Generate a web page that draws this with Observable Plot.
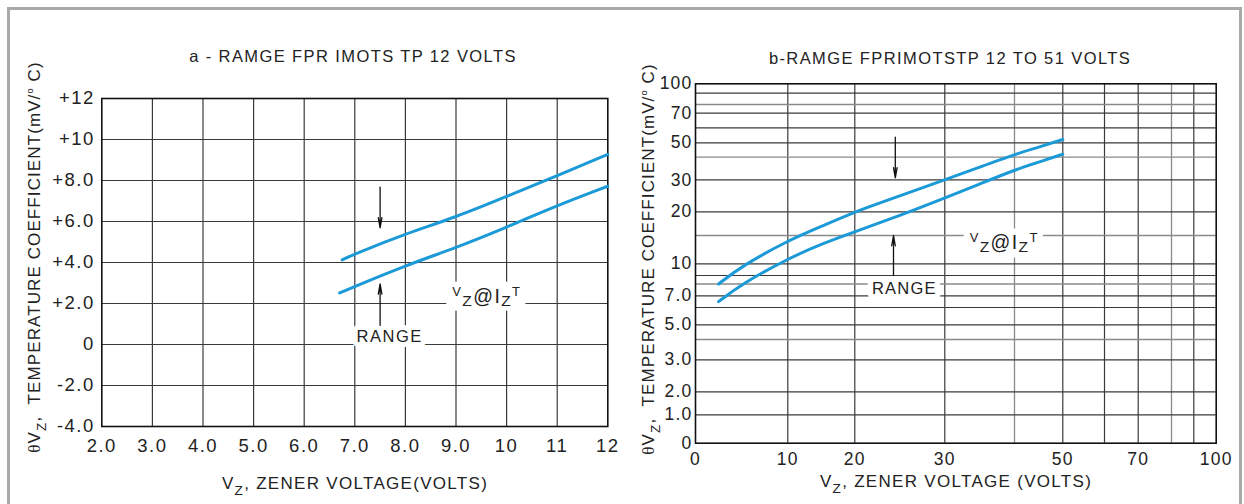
<!DOCTYPE html>
<html><head><meta charset="utf-8">
<script src="https://cdn.jsdelivr.net/npm/d3@7"></script>
<script src="https://cdn.jsdelivr.net/npm/@observablehq/plot@0.6"></script>
<style>
html,body{margin:0;padding:0;background:#fff;}
#page{position:relative;width:1244px;height:504px;overflow:hidden;font-family:"Liberation Sans",Arial,Helvetica,sans-serif;color:#222;}
#frameBox{position:absolute;left:7px;top:7px;width:1229px;height:620px;border:3px solid #a9a9a9;}
.panel{position:absolute;top:0;}
.panel svg{overflow:visible;display:block;}
.txt{position:absolute;white-space:nowrap;transform:translate(-50%,-50%);line-height:1;}
.title{font-size:16.5px;letter-spacing:1.4px;}
.xlab{font-size:17px;letter-spacing:1.3px;}
.ylab{font-size:17px;letter-spacing:1.1px;transform:translate(-50%,-50%) rotate(-90deg);}
sub{font-size:0.8em;vertical-align:-0.45em;line-height:0;}
sup{font-size:0.55em;vertical-align:0.7em;line-height:0;}
.theta{font-family:"Liberation Serif","DejaVu Serif",serif;}
</style></head><body>
<div id="page">
  <div id="frameBox"></div>
  <div id="panelA" class="panel" style="left:0px"></div>
  <div id="panelB" class="panel" style="left:622px"></div>
  <div id="titleA" class="txt title" style="left:353px;top:56px"></div>
  <div id="titleB" class="txt title" style="left:950px;top:58px"></div>
  <div id="xlabA" class="txt xlab" style="left:355px;top:483px"></div>
  <div id="xlabB" class="txt xlab" style="left:956px;top:481px"></div>
  <div id="ylabA" class="txt ylab" style="left:34px;top:257px"></div>
  <div id="ylabB" class="txt ylab" style="left:648px;top:259px"></div>
</div>
<script>
// ================= DATA =================
// Panel a
const aTitle = "a - RAMGE FPR IMOTS TP 12 VOLTS";
const aXTicks = [2, 3, 4, 5, 6, 7, 8, 9, 10, 11, 12];
const aXTickLabels = ["2.0", "3.0", "4.0", "5.0", "6.0", "7.0", "8.0", "9.0", "10", "11", "12"];
const aYTicks = [-4, -2, 0, 2, 4, 6, 8, 10, 12];
const aYTickLabels = ["-4.0", "-2.0", "0", "+2.0", "+4.0", "+6.0", "+8.0", "+10", "+12"];
const aUpperX = [6.75, 7, 8, 9, 10, 11, 12];
const aUpperY = [4.13, 4.42, 5.40, 6.21, 7.22, 8.24, 9.27];
const aLowerX = [6.70, 7, 8, 9, 10, 11, 12];
const aLowerY = [2.52, 2.83, 3.85, 4.72, 5.72, 6.78, 7.72];
const aArrowX = [7.5, 7.5];
const aArrowFrom = [7.68, 0.93];
const aArrowTo = [5.69, 2.96];
const aRangeX = [7.69], aRangeY = [0.36];
const aVzX = 9.62, aVzY = 2.31;

// Panel b
const bTitle = "b-RAMGE FPRIMOTSTP 12 TO 51 VOLTS";
const bXDomain = [0, 10, 20, 30, 40, 50, 60, 70, 80, 90, 100];
const bXTicks = [0, 10, 20, 30, 50, 70, 100];
const bXTickLabels = ["0", "10", "20", "30", "50", "70", "100"];
const bXGrid = [10, 20, 30, 40, 50, 60, 70, 80, 90];
const bYDomain = [0, 1, 2, 3, 4, 5, 6, 7, 8, 9, 10, 15, 20, 30, 40, 50, 60, 70, 80, 90, 100];
const bYTicks = [0, 1, 2, 3, 5, 7, 10, 20, 30, 50, 70, 100];
const bYTickLabels = ["0", "1.0", "2.0", "3.0", "5.0", "7.0", "10", "20", "30", "50", "70", "100"];
const bYGrid = [1, 2, 3, 4, 5, 6, 7, 8, 9, 10, 15, 20, 30, 40, 50, 60, 70, 80, 90];
const bUpperX = [2.5, 5, 10, 15, 20, 25, 30, 35, 40, 45, 50];
const bUpperY = [8.0, 9.8, 14.1, 16.9, 20.0, 25.0, 30.0, 35.6, 41.9, 46.9, 52.2];
const bLowerX = [2.5, 5, 10, 15, 20, 25, 30, 35, 40, 45, 50];
const bLowerY = [6.5, 8.0, 10.9, 13.5, 15.8, 19.2, 24.3, 28.7, 34.4, 37.8, 42.1];
const bArrowX = [24.5, 24.3];
const bArrowFrom = [53.7, 9.0];
const bArrowTo = [30.9, 15.0];
const bRangeX = [25.5], bRangeY = [7.6];
const bVzX = 38.6, bVzY = 13.5;

// ================= LAYOUT / STYLE =================
const PW = 622, PH = 504;
const aFrame = {left: 101.3, right: 607.3, top: 98, bottom: 426};
// pixel stops of panel b's distorted (quasi-log) grid, matching bXDomain / bYDomain
const bXStops = [73, 165.3, 232.3, 322.3, 392, 440.3, 482, 515.7, 549, 571.3, 593.7];
const bYStops = [442.7, 414.3, 391.3, 359.3, 339, 324.3, 307, 295.3, 283.5, 275, 263.3, 235, 211.3, 179.4, 156.7, 142.3, 127.3, 112.7, 104, 92.7, 83.3];
const bXLight = new Set([40, 80]);
const bYLight = new Set([4, 8, 15, 40, 80]);
const BLUE = "#1b9ad7";
const GRID = "#3a3a3a", GRID_LIGHT = "#8a8a8a", INK = "#222";
const FONT = "Liberation Sans, Arial, Helvetica, sans-serif";

const zipXY = (xs, ys) => xs.map((x, i) => ({x, y: ys[i]}));
const arrows = (xs, f, t) => xs.map((x, i) => ({x, from: f[i], to: t[i]}));
const labelMap = (ticks, labels) => new Map(ticks.map((t, i) => [t, labels[i]]));
const aXMap = labelMap(aXTicks, aXTickLabels), aYMap = labelMap(aYTicks, aYTickLabels);
const bXMap = labelMap(bXTicks, bXTickLabels), bYMap = labelMap(bYTicks, bYTickLabels);

// ================= PANEL A =================
const plotA = Plot.plot({
  width: PW, height: PH,
  marginLeft: aFrame.left, marginRight: PW - aFrame.right,
  marginTop: aFrame.top, marginBottom: PH - aFrame.bottom,
  style: {background: "transparent", fontFamily: FONT, fontSize: "18.5px", letterSpacing: "1.5px", color: INK, overflow: "visible"},
  x: {type: "linear", domain: [aXTicks[0], aXTicks[aXTicks.length - 1]], ticks: aXTicks, tickFormat: d => aXMap.get(d), tickSize: 0, tickPadding: 12, label: null},
  y: {type: "linear", domain: [aYTicks[0], aYTicks[aYTicks.length - 1]], ticks: aYTicks, tickFormat: d => aYMap.get(d), tickSize: 0, tickPadding: 7, label: null},
  marks: [
    Plot.ruleX(aXTicks.slice(1, -1), {stroke: GRID, strokeWidth: 1.2}),
    Plot.ruleY(aYTicks.slice(1, -1), {stroke: GRID, strokeWidth: 1.2}),
    Plot.frame({stroke: "#111", strokeWidth: 1.6}),
    Plot.line(zipXY(aUpperX, aUpperY), {x: "x", y: "y", curve: "basis", stroke: BLUE, strokeWidth: 3}),
    Plot.line(zipXY(aLowerX, aLowerY), {x: "x", y: "y", curve: "basis", stroke: BLUE, strokeWidth: 3}),
    Plot.arrow(arrows(aArrowX, aArrowFrom, aArrowTo), {x1: "x", y1: "from", x2: "x", y2: "to", headAngle: 20, headLength: 12, stroke: "#111", strokeWidth: 1.3}),
    Plot.text(zipXY(aRangeX, aRangeY), {x: "x", y: "y", text: () => "RANGE", fontSize: 16.5, fill: INK, stroke: "white", strokeWidth: 10})
  ]
});

// ================= PANEL B =================
const plotB = Plot.plot({
  width: PW, height: PH,
  marginLeft: bXStops[0], marginRight: PW - bXStops[bXStops.length - 1],
  marginTop: bYStops[bYStops.length - 1], marginBottom: PH - bYStops[0],
  style: {background: "transparent", fontFamily: FONT, fontSize: "17.5px", letterSpacing: "1.2px", color: INK, overflow: "visible"},
  x: {type: "linear", domain: bXDomain, range: bXStops, ticks: bXTicks, tickFormat: d => bXMap.get(d), tickSize: 0, tickPadding: 9, label: null},
  y: {type: "linear", domain: bYDomain, range: bYStops, ticks: bYTicks, tickFormat: d => bYMap.get(d), tickSize: 0, tickPadding: 3, label: null},
  marks: [
    Plot.ruleX(bXGrid.filter(d => !bXLight.has(d)), {stroke: GRID, strokeWidth: 1.2}),
    Plot.ruleX(bXGrid.filter(d => bXLight.has(d)), {stroke: GRID_LIGHT, strokeWidth: 1.3}),
    Plot.ruleY(bYGrid.filter(d => !bYLight.has(d)), {stroke: GRID, strokeWidth: 1.2}),
    Plot.ruleY(bYGrid.filter(d => bYLight.has(d)), {stroke: GRID_LIGHT, strokeWidth: 1.3}),
    Plot.frame({stroke: "#111", strokeWidth: 1.6}),
    Plot.line(zipXY(bUpperX, bUpperY), {x: "x", y: "y", curve: "basis", stroke: BLUE, strokeWidth: 3}),
    Plot.line(zipXY(bLowerX, bLowerY), {x: "x", y: "y", curve: "basis", stroke: BLUE, strokeWidth: 3}),
    Plot.arrow(arrows(bArrowX, bArrowFrom, bArrowTo), {x1: "x", y1: "from", x2: "x", y2: "to", headAngle: 20, headLength: 12, stroke: "#111", strokeWidth: 1.3}),
    Plot.text(zipXY(bRangeX, bRangeY), {x: "x", y: "y", text: () => "RANGE", fontSize: 16.5, fill: INK, stroke: "white", strokeWidth: 11})
  ]
});

document.getElementById("panelA").appendChild(plotA);
document.getElementById("panelB").appendChild(plotB);

// "VZ@IZT" label with sub/superscripted parts, placed through the plot scales
function addVz(svg, vx, vy) {
  const cx = svg.scale("x").apply(vx), cy = svg.scale("y").apply(vy);
  const g = d3.select(svg).append("g");
  const t = g.append("text").attr("x", cx).attr("y", cy + 6).attr("text-anchor", "middle")
    .attr("fill", INK).style("font-family", FONT).style("letter-spacing", "1.4px");
  [["V", 13, -7], ["Z", 15.5, 10], ["@I", 19.5, -3], ["Z", 15.5, 3], ["T", 13, -10]]
    .forEach(([s, fs, dy]) => t.append("tspan").attr("font-size", fs).attr("dy", dy).text(s));
  const bb = t.node().getBBox();
  g.insert("rect", "text").attr("x", bb.x - 6).attr("y", bb.y - 2)
    .attr("width", bb.width + 10).attr("height", bb.height + 4).attr("fill", "white");
}
addVz(plotA, aVzX, aVzY);
addVz(plotB, bVzX, bVzY);

// titles and axis labels
document.getElementById("titleA").textContent = aTitle;
document.getElementById("titleB").textContent = bTitle;
document.getElementById("xlabA").innerHTML = "V<sub>Z</sub>, ZENER VOLTAGE(VOLTS)";
document.getElementById("xlabB").innerHTML = "V<sub>Z</sub>, ZENER VOLTAGE (VOLTS)";
const ylab = "<span class='theta'>&theta;</span>V<sub>Z</sub>,&nbsp; TEMPERATURE COEFFICIENT(mV/<sup>o</sup> C)";
document.getElementById("ylabA").innerHTML = ylab;
document.getElementById("ylabB").innerHTML = ylab;
</script>
</body></html>
